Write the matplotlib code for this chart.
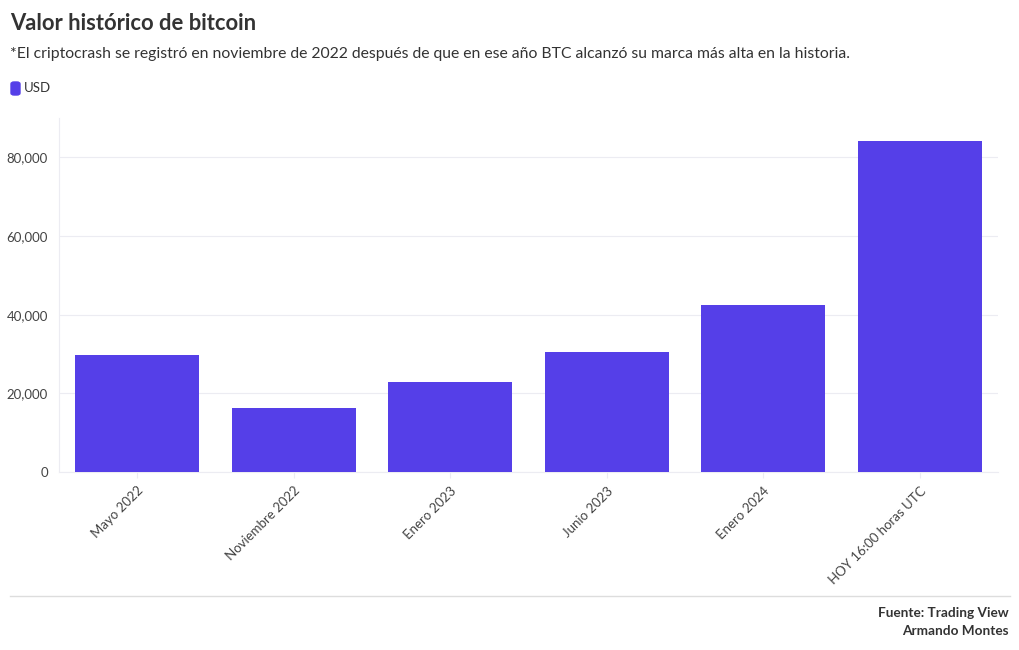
import matplotlib
matplotlib.use("Agg")
import matplotlib.pyplot as plt
from matplotlib.patches import FancyBboxPatch
from matplotlib.lines import Line2D
from matplotlib.ticker import FuncFormatter

plt.rcParams["font.family"] = ["Lato", "DejaVu Sans"]

# data
periods = ["Mayo 2022", "Noviembre 2022", "Enero 2023", "Junio 2023", "Enero 2024", "HOY 16:00 horas UTC"]
usd = [29800, 16300, 22900, 30600, 42500, 84100]

BAR = "#553fe8"
TXT = "#333333"
GRID = "#ececf2"

fig = plt.figure(figsize=(10.2, 6.5), dpi=100)
ax = fig.add_axes([59 / 1020, 178 / 650, 939 / 1020, 354 / 650])

ax.bar(range(len(periods)), usd, width=0.79, color=BAR, zorder=3)
ax.set_xlim(-0.5, len(periods) - 0.5)
ax.set_ylim(0, 90000)
ax.set_yticks([0, 20000, 40000, 60000, 80000])
ax.yaxis.set_major_formatter(FuncFormatter(lambda v, p: f"{int(v):,}"))
ax.grid(axis="y", color=GRID, linewidth=0.8, zorder=0)

ax.set_xticks(range(len(periods)))
ax.set_xticklabels(periods, rotation=45, ha="right", va="top", rotation_mode="anchor")
ax.tick_params(axis="x", length=4, color=GRID, labelsize=9.5, labelcolor="#444444", pad=5)
ax.tick_params(axis="y", length=0, labelsize=9.5, labelcolor="#444444", pad=8)

for s in ["top", "right"]:
    ax.spines[s].set_visible(False)
ax.spines["left"].set_color(GRID)
ax.spines["bottom"].set_color(GRID)

# header
fig.text(10 / 1020, 1 - 24 / 650, "Valor histórico de bitcoin", fontsize=15.8,
         fontweight="bold", color=TXT, va="center", ha="left")
fig.text(10 / 1020, 1 - 54 / 650,
         "*El criptocrash se registró en noviembre de 2022 después de que en ese año BTC alcanzó su marca más alta en la historia.",
         fontsize=11.35, color=TXT, va="center", ha="left")

# legend
fig.patches.append(FancyBboxPatch((11 / 1020, 1 - 95 / 650), 9 / 1020, 13 / 650,
                                  boxstyle="round,pad=0,rounding_size=0.003",
                                  transform=fig.transFigure, color=BAR))
fig.text(24 / 1020, 1 - 88 / 650, "USD", fontsize=9.5, color=TXT, va="center", ha="left")

# footer
fig.add_artist(Line2D([10 / 1020, 1010 / 1020], [1 - 596 / 650, 1 - 596 / 650],
                      transform=fig.transFigure, color="#dddddd", linewidth=1))
fig.text(1009 / 1020, 1 - 613 / 650, "Fuente: Trading View", fontsize=9.8, fontweight="bold",
         color=TXT, va="center", ha="right")
fig.text(1009 / 1020, 1 - 631 / 650, "Armando Montes", fontsize=9.8, fontweight="bold",
         color=TXT, va="center", ha="right")

fig.savefig("out.png", dpi=100)
